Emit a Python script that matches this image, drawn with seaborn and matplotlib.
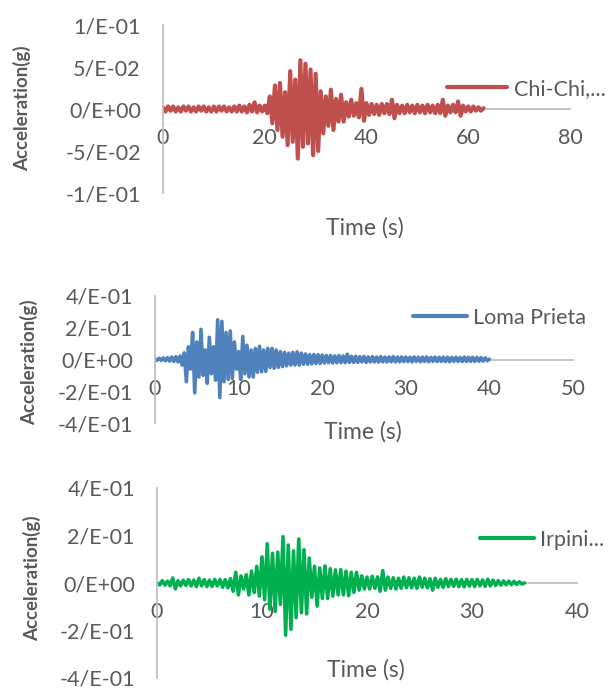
import numpy as np
import pandas as pd
import seaborn as sns
import matplotlib.pyplot as plt

# ground motion peaks, in mg, alternating up / down
chichi_dt = 0.5
chichi_mg = [
    2, -3, 3, -2, 3, -3, 2, -3, 3, -2,
    3, -3, 2, -3, 3, -2, 3, -3, 2, -3,
    3, -3, 3, -2, 3, -3, 2, -3, 3, -3,
    4, -3, 3, -4, 5, -3, 8, -4, 4, -3,
    4, -5, 15, -17, 28, -25, 31, -33, 20, -43,
    45, -39, 35, -59, 58, -45, 54, -41, 47, -55,
    42, -50, 21, -29, 15, -20, 23, -25, 12, -15,
    17, -15, 8, -9, 11, -8, 7, -10, 24, -14,
    7, -7, 6, -6, 5, -7, 6, -5, 6, -6,
    11, -11, 5, -5, 4, -5, 5, -4, 4, -5,
    5, -4, 4, -5, 5, -4, 4, -5, 5, -5,
    11, -8, 4, -4, 5, -4, 9, -8, 4, -3,
    3, -3, 3, -2, 2, -2, 1,
]

loma_dt = 0.25
loma_mg = [
    0, -5, 8, -6, 10, -8, 12, -10,
    15, -12, 18, -15, 22, -35, 42, -140,
    80, -60, 170, -210, 110, -110, 190, -100,
    60, -150, 140, -90, 80, -130, 250, -240,
    240, -140, 170, -125, 180, -120, 110, -60,
    50, -125, 145, -90, 90, -110, 60, -110,
    70, -80, 83, -77, 60, -75, 70, -50,
    70, -55, 60, -50, 50, -45, 45, -40,
    40, -35, 45, -35, 48, -35, 40, -30,
    35, -30, 30, -28, 32, -25, 30, -25,
    28, -22, 25, -20, 25, -22, 22, -20,
    25, -20, 22, -20, 33, -18, 20, -18,
    20, -18, 18, -15, 20, -18, 16, -15,
    18, -15, 15, -16, 18, -14, 15, -15,
    16, -14, 18, -15, 15, -14, 16, -13,
    15, -13, 14, -15, 16, -12, 14, -14,
    15, -13, 16, -14, 13, -12, 15, -13,
    14, -12, 15, -13, 14, -14, 13, -12,
    14, -12, 13, -13, 15, -12, 13, -12,
    14, -12, 13, -11, 12, -10, 10, -8,
    2,
]

irpinia_dt = 0.25
irpinia_mg = [
    0, -8, 10, -9, 8, -12, 21, -25,
    10, -12, 12, -10, 14, -12, 12, -15,
    20, -12, 14, -15, 12, -14, 15, -12,
    15, -18, 14, -20, 18, -35, 45, -50,
    30, -25, 35, -50, 50, -40, 70, -55,
    110, -70, 165, -110, 125, -120, 130, -90,
    195, -220, 160, -195, 135, -146, 185, -125,
    140, -130, 105, -60, 70, -97, 63, -65,
    72, -65, 60, -55, 55, -50, 56, -50,
    50, -53, 45, -40, 45, -30, 30, -25,
    25, -25, 28, -22, 25, -35, 52, -30,
    25, -22, 22, -25, 20, -22, 25, -20,
    22, -20, 20, -22, 25, -18, 20, -20,
    18, -30, 20, -18, 15, -18, 18, -15,
    15, -14, 16, -15, 14, -16, 15, -13,
    14, -15, 15, -12, 13, -14, 16, -12,
    12, -10, 10, -9, 9, -8, 8, -7,
    7, -6, 5, -4, 0,
]

names = ["Chi-Chi,...", "Loma Prieta", "Irpini..."]
colors = ["#C0504D", "#4F81BD", "#00B050"]
x_max = [80, 50, 40]
x_ticks = [[0, 20, 40, 60, 80], [0, 10, 20, 30, 40, 50], [0, 10, 20, 30, 40]]
y_ticks = [[-0.1, -0.05, 0, 0.05, 0.1], [-0.4, -0.2, 0, 0.2, 0.4], [-0.4, -0.2, 0, 0.2, 0.4]]
y_labels = [
    ["-1/E-01", "-5/E-02", "0/E+00", "5/E-02", "1/E-01"],
    ["-4/E-01", "-2/E-01", "0/E+00", "2/E-01", "4/E-01"],
    ["-4/E-01", "-2/E-01", "0/E+00", "2/E-01", "4/E-01"],
]
records = [(chichi_dt, chichi_mg), (loma_dt, loma_mg), (irpinia_dt, irpinia_mg)]

sns.set_style("white")
plt.rcParams["font.family"] = ["Lato", "DejaVu Sans"]
grey = "#595959"
axis_grey = "#BFBFBF"

W, H = 614, 689
fig = plt.figure(figsize=(W / 100, H / 100), dpi=100)


def px_rect(x0, y0, x1, y1):
    return [x0 / W, 1 - y1 / H, (x1 - x0) / W, (y1 - y0) / H]


rects = [px_rect(163, 25, 570, 193), px_rect(155, 296, 573, 423), px_rect(157, 488, 577, 678)]
legend_pos = [(447, 89, 2.8), (413, 318, 2.5), (480, 540, 2.5)]
xlabel_pos = [(365, 228), (363, 432), (366, 670)]
ylabel_pos = [(22, 108), (29, 362), (32, 578)]
line_w = [3.0, 2.6, 2.6]

for i in range(3):
    dt, mg = records[i]
    df = pd.DataFrame({"t": np.arange(len(mg)) * dt, "acc": np.array(mg) / 1000})
    ax = fig.add_axes(rects[i])
    sns.lineplot(data=df, x="t", y="acc", ax=ax, color=colors[i], lw=line_w[i],
                 sort=False, estimator=None, label=names[i])
    ax.set_xlim(0, x_max[i])
    ax.set_ylim(y_ticks[i][0], y_ticks[i][-1])
    ax.set_xticks(x_ticks[i])
    ax.set_yticks(y_ticks[i])
    ax.set_yticklabels(y_labels[i])
    ax.set_xlabel("")
    ax.set_ylabel("")
    for s in ["top", "right"]:
        ax.spines[s].set_visible(False)
    ax.spines["bottom"].set_position(("data", 0))
    ax.spines["bottom"].set_zorder(0)
    for s in ["left", "bottom"]:
        ax.spines[s].set_color(axis_grey)
        ax.spines[s].set_linewidth(1.3)
    ax.tick_params(axis="both", length=0, labelsize=15.5, labelcolor=grey)
    ax.tick_params(axis="x", pad=14)
    ax.tick_params(axis="y", pad=16)
    ax.patch.set_alpha(0)

    lx, ly, hl = legend_pos[i]
    leg = ax.legend(loc="center left", bbox_to_anchor=(lx / W, 1 - ly / H),
                    bbox_transform=fig.transFigure, frameon=False, fontsize=15.5,
                    labelcolor=grey, handlelength=hl, handletextpad=0.3,
                    borderpad=0, borderaxespad=0)
    for h in leg.get_lines():
        h.set_linewidth(3.0)

    tx, ty = xlabel_pos[i]
    fig.text(tx / W, 1 - ty / H, "Time (s)", ha="center", va="center",
             fontsize=16.5, color=grey)
    yx, yy = ylabel_pos[i]
    fig.text(yx / W, 1 - yy / H, "Acceleration(g)", ha="center", va="center",
             rotation=90, fontsize=13.5, fontweight="bold", color=grey)

fig.savefig("out.png", dpi=100)
